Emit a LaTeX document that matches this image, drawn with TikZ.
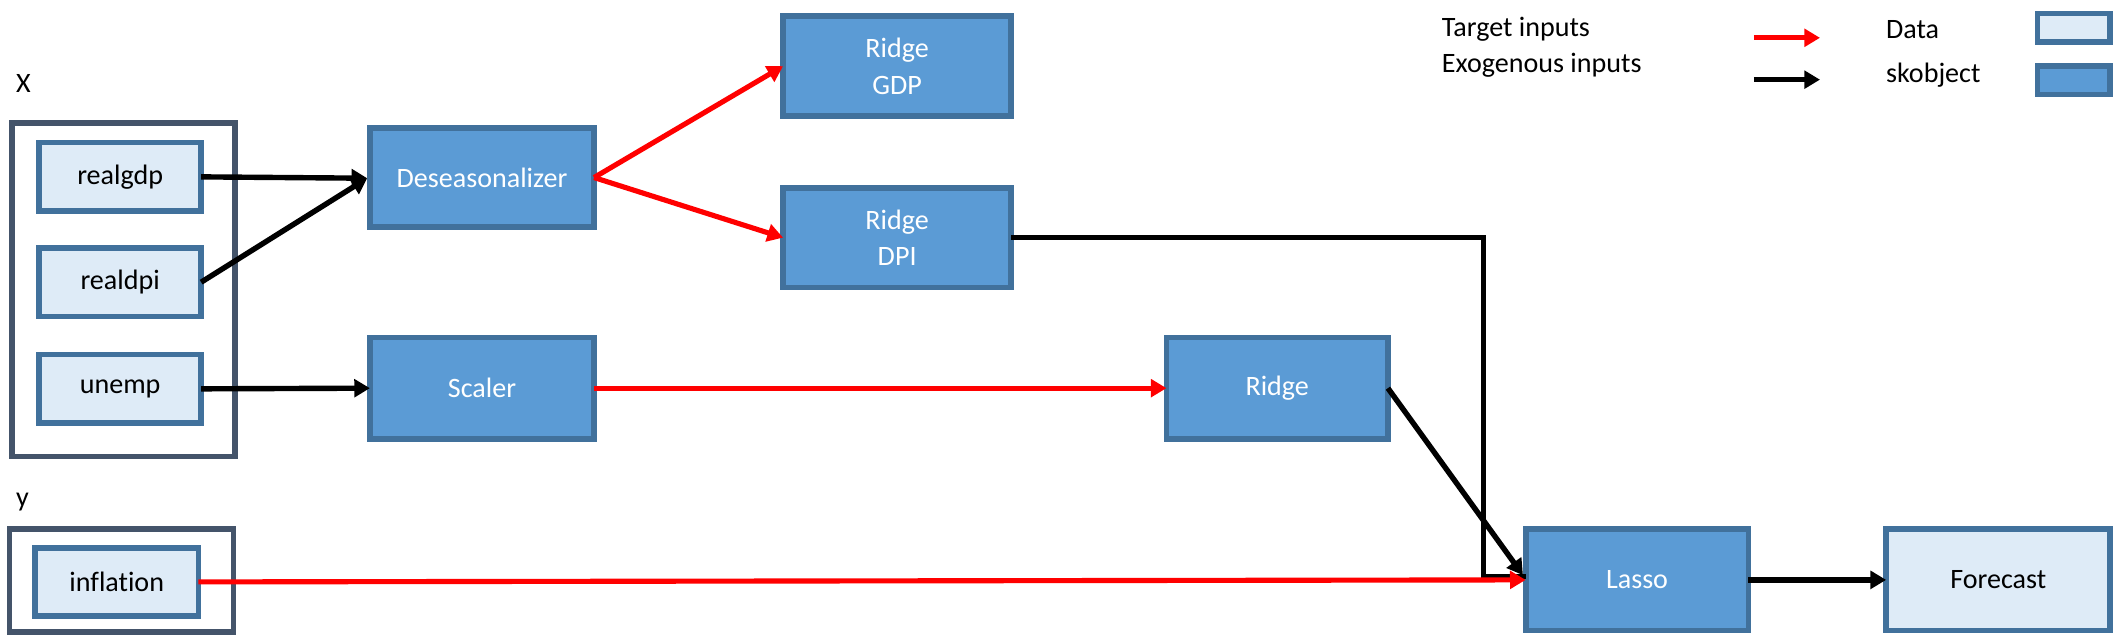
\documentclass[tikz,border=0pt]{standalone}
\usepackage{fontspec}
\setmainfont{Carlito}[Ligatures=NoCommon]
\usetikzlibrary{arrows.meta}
\definecolor{skfill}{HTML}{5B9BD5}
\definecolor{skborder}{HTML}{41719C}
\definecolor{datafill}{HTML}{DEEBF7}
\definecolor{grpborder}{HTML}{44546A}
\definecolor{tred}{HTML}{FF0000}
\begin{document}
\begin{tikzpicture}[x=0.5pt,y=-0.5pt,
  every node/.style={font=\fontsize{10.4}{13.5}\selectfont, inner sep=0pt, outer sep=0pt},
  sko/.style={draw=skborder, fill=skfill, line width=2.1pt, text=white, align=center},
  datab/.style={draw=skborder, fill=datafill, line width=2.1pt, text=black, align=center},
  grp/.style={draw=grpborder, line width=2.1pt},
  tip/.style={-{Triangle[length=5.8pt,width=6.5pt]}},
  exo/.style={tip, line width=2pt, black},
  tgt/.style={tip, line width=1.9pt, tred},
  lbl/.style={anchor=west, text=black}
]
\useasboundingbox (0,0) rectangle (1568,471);
% group boxes
\node[grp, minimum width=82.5pt, minimum height=123.5pt] (xgrp) at (91.5,214.5) {};
\node[grp, minimum width=83pt, minimum height=38pt] (ygrp) at (90,430) {};
\node[lbl] (xl) at (12,62) {X};
\node[lbl] (yl) at (12,372) {y};
% data nodes
\node[datab, minimum width=60pt, minimum height=25.5pt] (gdp) at (89,131) {realgdp};
\node[datab, minimum width=60pt, minimum height=25.5pt] (dpi) at (89,209) {realdpi};
\node[datab, minimum width=60pt, minimum height=25.5pt] (unemp) at (89,288) {unemp};
\node[datab, minimum width=60.5pt, minimum height=25pt] (infl) at (86.5,431) {inflation};
% skobjects
\node[sko, minimum width=83pt, minimum height=36.5pt] (des) at (357,131.5) {Deseasonalizer};
\node[sko, minimum width=83pt, minimum height=37.5pt] (scaler) at (357,287.5) {Scaler};
\node[sko, minimum width=84.5pt, minimum height=37pt] (rgdp) at (664.5,49) {Ridge\\GDP};
\node[sko, minimum width=84.5pt, minimum height=37pt] (rdpi) at (664.5,176) {Ridge\\DPI};
\node[sko, minimum width=82pt, minimum height=37.5pt] (ridge) at (946,287.5) {Ridge};
\node[sko, minimum width=82.5pt, minimum height=37.5pt] (lasso) at (1212.5,429.5) {Lasso};
\node[datab, minimum width=83pt, minimum height=37.5pt] (fc) at (1480,429.5) {Forecast};
% legend
\node[lbl] (lt) at (1068,22) {Target inputs};
\node[lbl] (le) at (1068,48) {Exogenous inputs};
\node[lbl] (ld) at (1397,22) {Data};
\node[lbl] (ls) at (1397,55.5) {skobject};
\node[datab, minimum width=27pt, minimum height=10.5pt] (ldb) at (1536,20.5) {};
\node[sko, minimum width=27pt, minimum height=10.5pt] (lsb) at (1536,59.5) {};
\coordinate (r1) at (1299,28);
\coordinate (r2) at (1348,28);
\coordinate (b1) at (1299,59);
\coordinate (b2) at (1348,59);
\draw[tgt] (r1) -- (r2);
\draw[exo] (b1) -- (b2);
% connectors
\coordinate (dm) at (272,132);
\draw[exo] (gdp.east) -- (dm);
\draw[exo] (dpi.east) -- (dm);
\draw[exo] (unemp.east) -- (scaler.west);
\draw[tgt] (des.east) -- (rgdp.west);
\draw[tgt] (des.east) -- (rdpi.west);
\draw[tgt] (scaler.east) -- (ridge.west);
\coordinate (elb) at (1099,427);
\draw[line width=1.8pt, black] (rdpi.east) -| (elb) -- (elb -| lasso.west);
\draw[tgt] (infl.east) -- (lasso.west);
\coordinate (lin) at (1128,426);
\draw[exo] (ridge.east) -- (lin);
\draw[exo] (lasso.east) -- (fc.west);
\end{tikzpicture}
\end{document}
